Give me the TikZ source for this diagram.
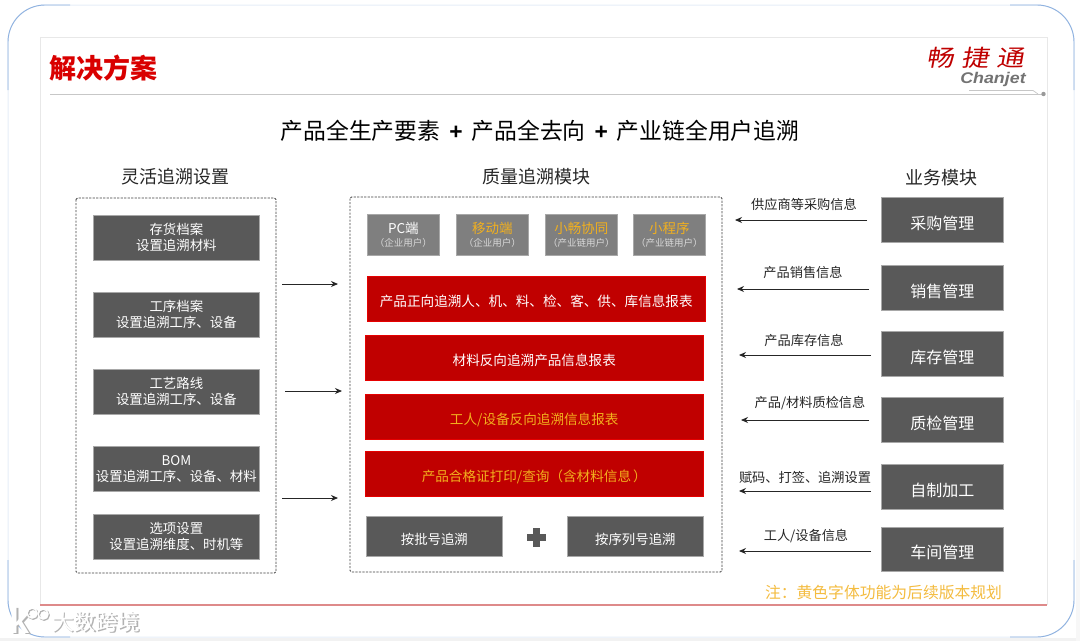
\documentclass[tikz,border=0pt]{standalone}
\usepackage{fontspec}
\setmainfont{Noto Sans CJK SC}
\newfontfamily\lat{Liberation Sans}
\usetikzlibrary{arrows.meta}
\definecolor{dk}{HTML}{595959}
\definecolor{mid}{HTML}{7F7F7F}
\definecolor{crim}{HTML}{C00000}
\definecolor{yel}{HTML}{F2B01E}
\definecolor{edge}{HTML}{A8A8A8}
\definecolor{ink}{HTML}{262626}
\definecolor{blueline}{HTML}{8FB2E0}
\definecolor{pale}{HTML}{E6EEF8}
\definecolor{pinkline}{HTML}{DE8A8A}
\newcommand{\fs}[1]{\fontsize{#1}{#1}\selectfont}
\tikzset{
 x=1pt,y=-1pt,
 basebox/.style={draw=edge,line width=.7pt,text=white,align=center,inner sep=0pt,anchor=north west},
 leftbox/.style={basebox,fill=dk,minimum width=166pt,minimum height=45pt,font=\fontsize{13.4}{16}\selectfont},
 rightbox/.style={basebox,fill=dk,minimum width=122pt,minimum height=44.5pt,font=\fs{16},text height=21pt,text depth=2pt},
 topbox/.style={basebox,fill=mid,minimum width=72pt,minimum height=41pt},
 redbox/.style={draw=red!60!crim,line width=.5pt,fill=crim,text=white,inner sep=0pt,anchor=north west,minimum width=338pt,minimum height=45pt,font=\fs{13.6},text height=18pt,text depth=1.6pt},
 lowbox/.style={basebox,fill=dk,minimum width=136pt,minimum height=40pt,font=\fs{13.4},text height=18pt,text depth=1.6pt},
 dashbox/.style={draw=black!75,dashed,dash pattern=on 2.2pt off 1.3pt,line width=.9pt,rounded corners=1.5pt},
 head/.style={text=ink,font=\fs{18},inner sep=0pt},
 lab/.style={text=ink,font=\fs{13.2},inner sep=0pt},
 conn/.style={draw=black!85,line width=.9pt,-{Stealth[length=7pt,width=6pt]}},
 corner/.style={blueline,line width=.9pt,rounded corners=37pt},
}
\newcommand{\plusm}{\hspace{9pt}{\lat\bfseries +}\hspace{9pt}}
\begin{document}
\begin{tikzpicture}
\useasboundingbox (0,0) rectangle (1080,641);
\fill[white] (0,0) rectangle (1080,641);
% outer rounded frame
\fill[black!5] (0,638) rectangle (1080,641);
\fill[black!3] (1076,400) rectangle (1080,641);
\draw[pale,line width=1pt,rounded corners=37pt] (8,5) rectangle (1074,637);
\draw[corner] (8,90) -- (8,5) -- (70,5);
\draw[corner] (1010,5) -- (1074,5) -- (1074,90);
\draw[corner] (8,560) -- (8,637) -- (70,637);
\draw[corner] (1010,637) -- (1074,637) -- (1074,560);
% inner slide frame
\draw[black!9,line width=1pt] (40,605) -- (40,37.5) -- (1047,37.5) -- (1047,605);
\draw[black!22,line width=1pt] (50,94) -- (1043,94);
\draw[black!22,line width=.7pt] (969,90.5) -- (1033,90.5) -- (1038,94);
\fill[black!40] (1043.5,94) circle (2.2);
\draw[pinkline,line width=1.4pt] (40,605) -- (1047,605);
% title and logo
\node[anchor=west,inner sep=0pt,text=red!85!black,font=\fs{27}\bfseries] (title) at (49,68) {解决方案};
\node[inner sep=0pt,text=red!75!black,font=\fs{23},xscale=1.2,xslant=.15] (logo) at (977,58) {畅\hspace{6pt}捷\hspace{6pt}通};
\node[inner sep=0pt,text=black!55,font=\lat\fs{15.5}\itshape\bfseries,xscale=1.15] (logosub) at (993,79.5) {Chanjet};
\node[inner sep=0pt,text=black,font=\fs{22.8}] (main) at (540,131) {产品全生产要素\plusm 产品全去向\plusm 产业链全用户追溯};
% column headings
\node[head] (h1) at (175,177) {灵活追溯设置};
\node[head] (h2) at (536,177) {质量追溯模块};
\node[head] (h3) at (941,178) {业务模块};
% dashed groups
\draw[dashbox] (76,198) rectangle (276,573);
\draw[dashbox] (350,197) rectangle (722,572);
% left boxes
\node[leftbox] (l1) at (93,215) {存货档案\\设置追溯材料};
\node[leftbox] (l2) at (93,292) {工序档案\\设置追溯工序、设备};
\node[leftbox] (l3) at (93,369) {工艺路线\\设置追溯工序、设备};
\node[leftbox] (l4) at (93,446) {BOM\\设置追溯工序、设备、材料};
\node[leftbox] (l5) at (93,514) {选项设置\\设置追溯维度、时机等};
% top boxes
\node[topbox] (t1) at (367,214) {\fs{13.5}PC端\\[1.5pt]\fs{9.5}\textcolor{white!85!black}{（企业用户）}};
\node[topbox] (t2) at (456,214) {\fs{13.5}\textcolor{yel}{移动端}\\[1.5pt]\fs{9.5}\textcolor{white!85!black}{（企业用户）}};
\node[topbox] (t3) at (545,214) {\fs{13.5}\textcolor{yel}{小畅协同}\\[1.5pt]\fs{9.5}\textcolor{white!85!black}{（产业链用户）}};
\node[topbox] (t4) at (633,214) {\fs{13.5}\textcolor{yel}{小程序}\\[1.5pt]\fs{9.5}\textcolor{white!85!black}{（产业链用户）}};
% red boxes
\node[redbox] (r1) at (367,276) {产品正向追溯人、机、料、检、客、供、库信息报表};
\node[redbox] (r2) at (365,335) {材料反向追溯产品信息报表};
\node[redbox,text=yel] (r3) at (365,394) {工人/设备反向追溯信息报表};
\node[redbox,text=yel] (r4) at (365,451) {产品合格证打印/查询（含材料信息\hspace{2pt}）};
% lower boxes and plus
\node[lowbox] (b1) at (366,516) {按批号追溯};
\node[lowbox] (b2) at (567,516) {按序列号追溯};
\fill[dk] (533,527.5) rectangle (540,547);
\fill[dk] (527,534) rectangle (546,540.5);
% right boxes
\node[rightbox] (s1) at (881,197) {采购管理};
\node[rightbox] (s2) at (881,265) {销售管理};
\node[rightbox] (s3) at (881,331) {库存管理};
\node[rightbox] (s4) at (881,397) {质检管理};
\node[rightbox] (s5) at (881,464) {自制加工};
\node[rightbox] (s6) at (881,526.5) {车间管理};
% right connector ends
\coordinate (a1s) at (867,220); \coordinate (a1e) at (735,220);
\coordinate (a2s) at (869,289); \coordinate (a2e) at (737,289);
\coordinate (a3s) at (871,355); \coordinate (a3e) at (739,355);
\coordinate (a4s) at (869,420); \coordinate (a4e) at (741,420);
\coordinate (a5s) at (871,491); \coordinate (a5e) at (739,491);
\coordinate (a6s) at (871,551); \coordinate (a6e) at (739,551);
\foreach \i in {1,...,6} {\draw[conn] (a\i s) -- (a\i e);}
\node[lab] (n1) at (804,204) {供应商等采购信息};
\node[lab] (n2) at (803,272) {产品销售信息};
\node[lab] (n3) at (804,340) {产品库存信息};
\node[lab] (n4) at (810,403) {产品/材料质检信息};
\node[lab] (n5) at (805,477) {赋码、打签、追溯设置};
\node[lab] (n6) at (806,536) {工人/设备信息};
% left connector ends
\coordinate (c1s) at (282,284); \coordinate (c1e) at (338,284);
\coordinate (c2s) at (285,391); \coordinate (c2e) at (342,391);
\coordinate (c3s) at (282,498); \coordinate (c3e) at (338,498);
\foreach \i in {1,2,3} {\draw[conn] (c\i s) -- (c\i e);}
% note
\node[inner sep=0pt,text=yel!85!white,font=\fs{15.8}] (note) at (883.5,592) {注：黄色字体功能为后续版本规划};
% watermark
\foreach \dx/\col in {1.2/black!30,0/white} {
 \node[inner sep=0pt,text=\col,font=\fs{22}] (wm) at (96+\dx,622+\dx) {大数跨境};
 \node[inner sep=0pt,text=\col,font=\lat\fs{36}\bfseries] (wk) at (20+\dx,620+\dx) {k};
 \draw[\col,line width=1.4pt] (32+\dx,613+\dx) circle (5);
 \draw[\col,line width=1.4pt] (43+\dx,614+\dx) circle (5);
}
\end{tikzpicture}
\end{document}
